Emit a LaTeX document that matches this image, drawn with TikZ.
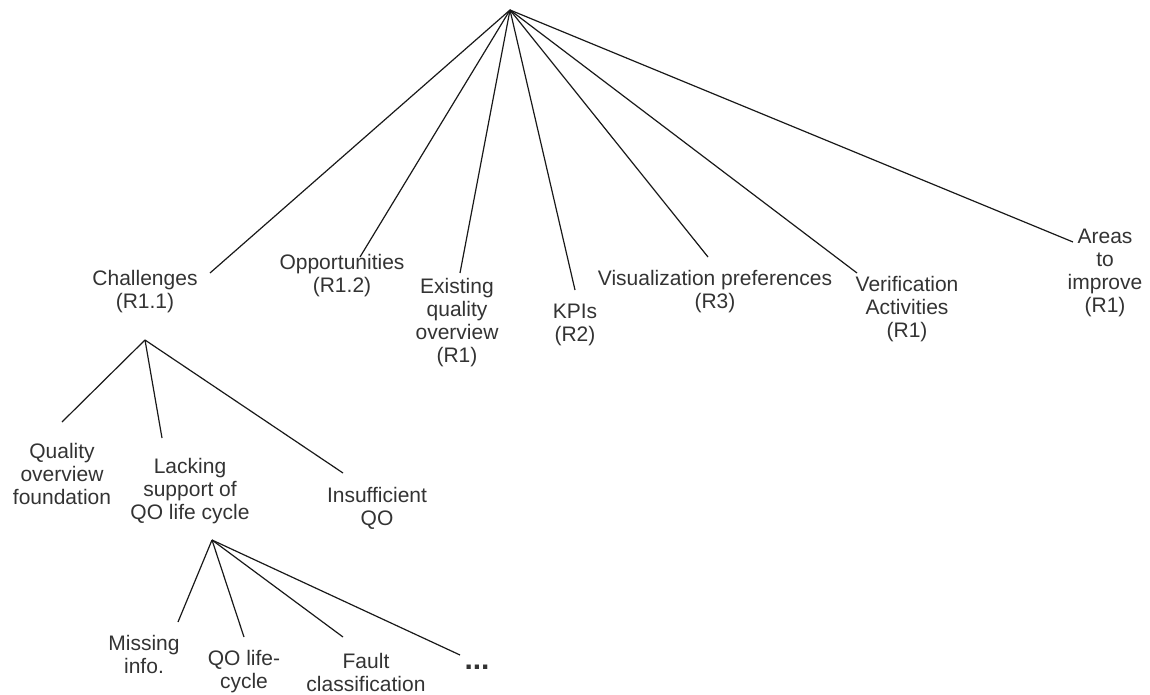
\documentclass[tikz,border=0pt]{standalone}
\usepackage{fontspec}
\setmainfont{Liberation Sans}
\begin{document}
\begin{tikzpicture}[x=1pt,y=-1pt,
  lbl/.style={align=center, inner sep=0pt, font=\fontsize{21}{23}\selectfont, text=black!80},
  edge/.style={draw=black!90, line width=1.2pt}]
\useasboundingbox (0,0) rectangle (1150,695);
% top level
\coordinate (root) at (510,10);
\node[lbl] (ch) at (145,292) {Challenges\\(R1.1)};
\node[lbl] (op) at (342,276) {Opportunities\\(R1.2)};
\node[lbl] (ex) at (457,323) {Existing\\quality\\overview\\(R1)};
\node[lbl] (kp) at (575,325) {KPIs\\(R2)};
\node[lbl] (vi) at (715,292) {Visualization preferences\\(R3)};
\node[lbl] (ve) at (907,309) {Verification\\Activities\\(R1)};
\node[lbl] (ar) at (1105,273) {Areas\\to\\improve\\(R1)};
\coordinate (chE) at (210,273);
\coordinate (opE) at (360,257);
\coordinate (exE) at (460,273);
\coordinate (kpE) at (575,290);
\coordinate (viE) at (708,257);
\coordinate (veE) at (857,273);
\coordinate (arE) at (1073,242);
\foreach \e in {chE,opE,exE,kpE,viE,veE,arE} \draw[edge] (root) -- (\e);
% challenges subtree
\coordinate (c1) at (145,340);
\node[lbl] (qo) at (62,474) {Quality\\overview\\foundation};
\node[lbl] (la) at (190,491) {Lacking\\support of\\QO life cycle};
\node[lbl] (in) at (377,508) {Insufficient\\QO};
\coordinate (qoE) at (62,422);
\coordinate (laE) at (162,438);
\coordinate (inE) at (343,473);
\foreach \e in {qoE,laE,inE} \draw[edge] (c1) -- (\e);
% lacking subtree
\coordinate (c2) at (212,540);
\node[lbl] (mi) at (144,654) {Missing\\info.};
\node[lbl] (ql) at (244,672) {QO life-\\cycle};
\node[lbl] (fa) at (366,672) {Fault\\classification};
\node[lbl, font=\fontsize{30}{30}\selectfont\bfseries, anchor=base] (dt) at (477,669) {...};
\coordinate (miE) at (178,622);
\coordinate (qlE) at (244,637);
\coordinate (faE) at (343,637);
\coordinate (dtE) at (460,655);
\foreach \e in {miE,qlE,faE,dtE} \draw[edge] (c2) -- (\e);
\end{tikzpicture}
\end{document}
